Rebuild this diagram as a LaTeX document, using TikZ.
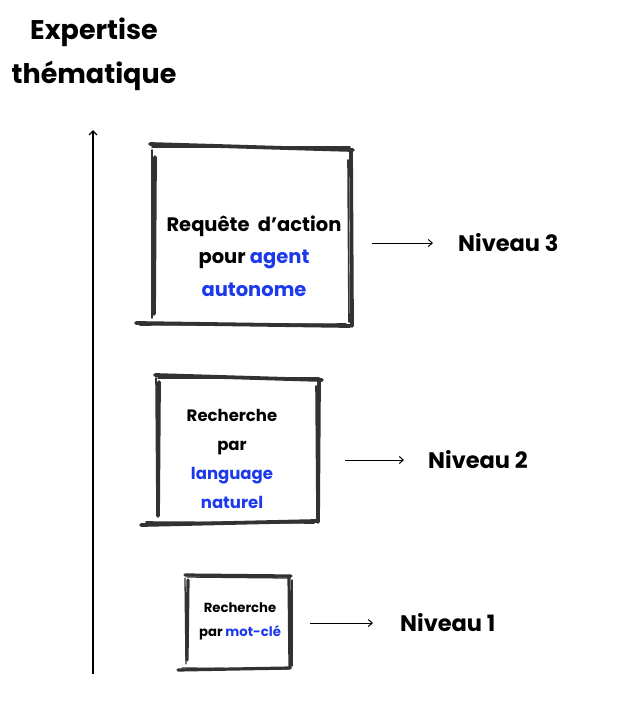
\documentclass[tikz,border=0pt]{standalone}
\usepackage{fontspec}
\setmainfont{Poppins}
\usetikzlibrary{arrows.meta}
\definecolor{sketch}{RGB}{50,50,50}
\definecolor{hblue}{RGB}{28,58,235}
\tikzset{
  stroke/.style={draw=sketch,line width=3.8pt,line cap=round},
  thinstroke/.style={draw=sketch,line width=1.6pt,line cap=round},
  boxarea/.style={inner sep=0pt,draw=none},
  label3/.style={align=center,font=\fontsize{19.5}{32.5}\selectfont\bfseries},
  label2/.style={align=center,font=\fontsize{16.5}{29}\selectfont\bfseries},
  label1/.style={align=center,font=\fontsize{13.2}{24}\selectfont\bfseries},
  niveau/.style={anchor=west,inner sep=0pt,font=\fontsize{22.5}{22}\selectfont\bfseries},
  arr/.style={draw=black,line width=1pt,-{Straight Barb[length=4pt,width=7pt]}},
}
\begin{document}
\begin{tikzpicture}[x=1pt,y=-1pt]
\useasboundingbox (0,0) rectangle (620,726);
% title
\node[align=center,font=\fontsize{27}{44}\selectfont\bfseries] (title) at (94,54) {Expertise\\thématique};
% axis
\coordinate (axbot) at (93,674);
\coordinate (axtop) at (93,130);
\draw[draw=black,line width=1.4pt,-{Straight Barb[length=4pt,width=8pt]}] (axbot) -- (axtop);

% box 3
\node[boxarea,minimum width=217pt,minimum height=182pt] (b3) at (243.5,236) {};
\draw[stroke] (150,144) -- (353,150);
\draw[thinstroke] (152,147) -- (350,147);
\draw[stroke] (155,157) -- (154,314);
\draw[thinstroke] (152,150) -- (152,318);
\draw[stroke] (351,151) -- (352,326);
\draw[thinstroke] (348,160) -- (349,322);
\draw[stroke] (136,323) -- (350,326);
\draw[thinstroke] (140,325) -- (346,324);
\node[label3] (t3) at (254,256) {Requête\ \ d’action\\pour \textcolor{hblue}{agent}\\\textcolor{hblue}{autonome}};
\node[niveau] (n3) at (458,243) {Niveau 3};
\draw[arr,shorten <=20pt,shorten >=25pt] (b3.east |- n3) -- (n3.west);

% box 2
\node[boxarea,minimum width=182pt,minimum height=150pt] (b2) at (231,450) {};
\draw[stroke] (155,375) -- (322,380);
\draw[thinstroke] (158,378) -- (319,378);
\draw[stroke] (159,382) -- (158,516);
\draw[thinstroke] (156,378) -- (157,512);
\draw[stroke] (319,380) -- (318,522);
\draw[thinstroke] (316,386) -- (317,518);
\draw[stroke] (141,525) -- (317,521);
\draw[thinstroke] (146,522) -- (314,523);
\node[label2] (t2) at (232,458.5) {Recherche\\par\\\textcolor{hblue}{language}\\\textcolor{hblue}{naturel}};
\node[niveau] (n2) at (428,460) {Niveau 2};
\draw[arr,shorten <=23pt,shorten >=24pt] (b2.east |- n2) -- (n2.west);

% box 1
\node[boxarea,minimum width=113pt,minimum height=95pt] (b1) at (233.5,622) {};
\draw[stroke,line width=3.2pt] (185,575) -- (291,576);
\draw[thinstroke,line width=1.3pt] (187,577) -- (289,578);
\draw[stroke,line width=3.2pt] (188,580) -- (187,660);
\draw[thinstroke,line width=1.3pt] (185,578) -- (186,664);
\draw[stroke,line width=3.2pt] (289,577) -- (290,668);
\draw[thinstroke,line width=1.3pt] (292,580) -- (292,666);
\draw[stroke,line width=3.2pt] (178,670) -- (290,668);
\draw[thinstroke,line width=1.3pt] (182,668) -- (288,669);
\node[label1] (t1) at (240,621) {Recherche\\par \textcolor{hblue}{mot-clé}};
\node[niveau] (n1) at (400,623) {Niveau 1};
\draw[arr,shorten <=20pt,shorten >=27pt] (b1.east |- n1) -- (n1.west);
\end{tikzpicture}
\end{document}
